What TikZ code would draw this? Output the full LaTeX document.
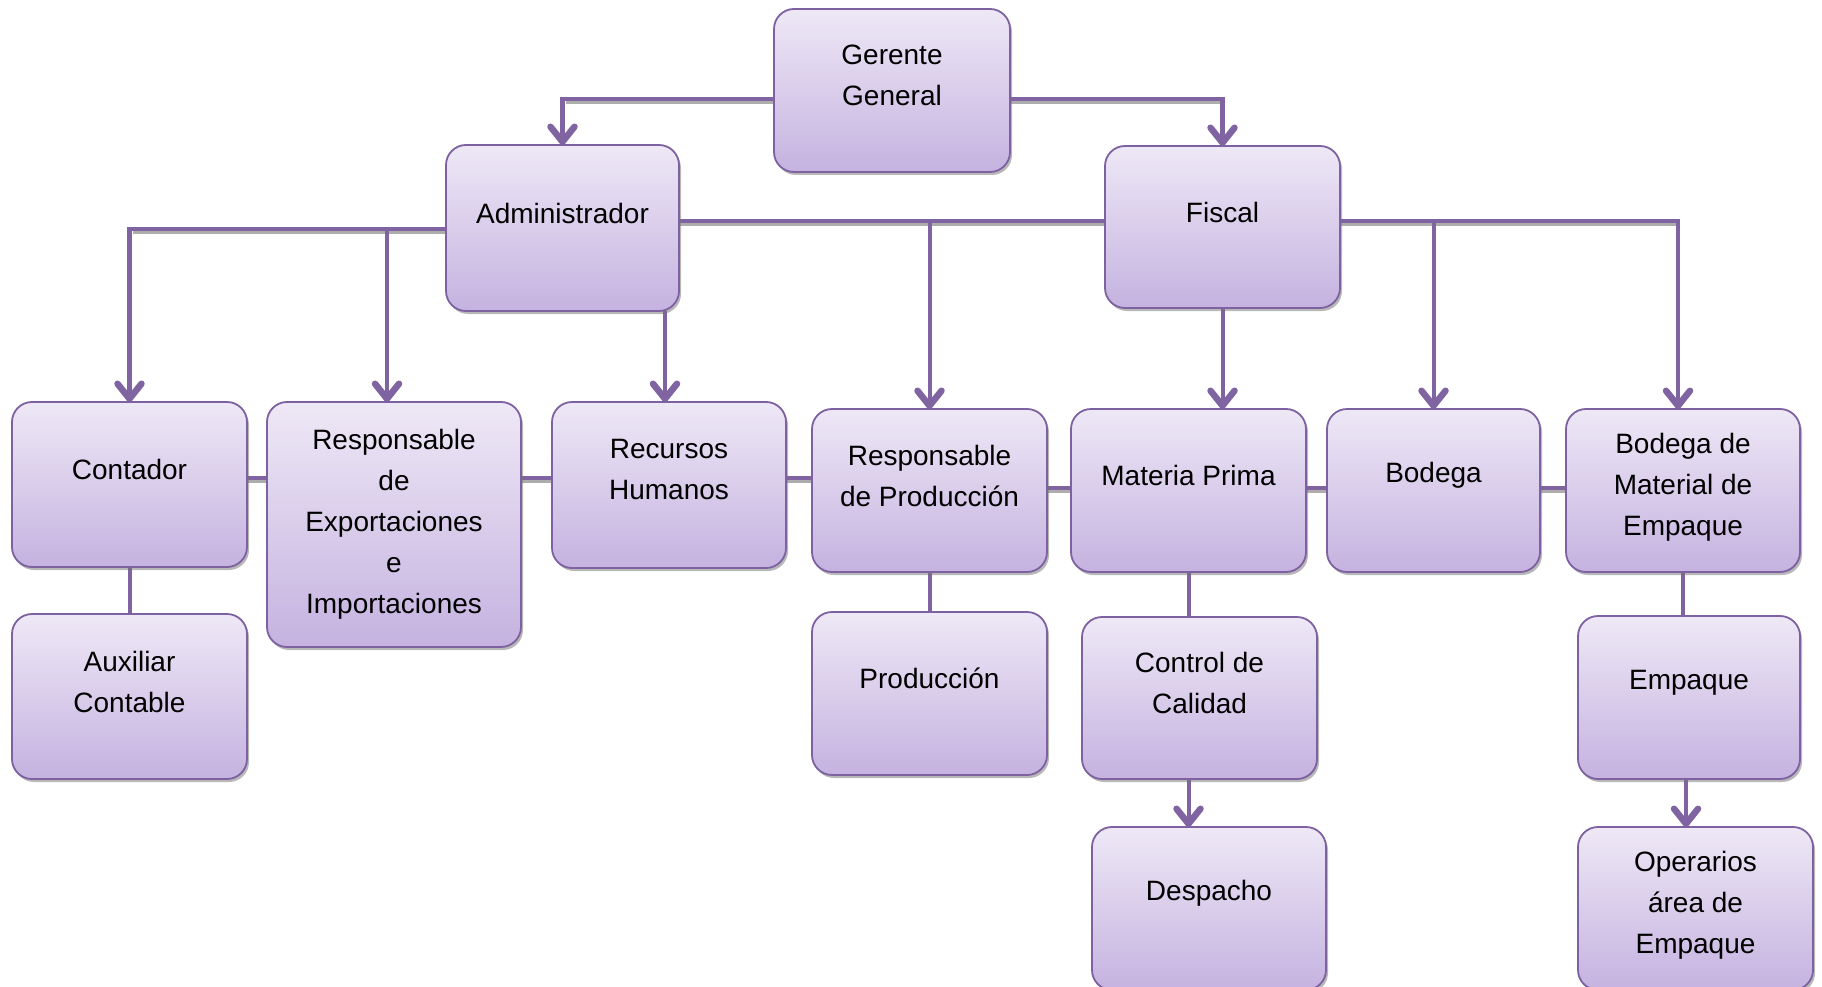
\documentclass[tikz,border=0pt]{standalone}
\usepackage{fontspec}
\setmainfont{Liberation Sans}
\usetikzlibrary{arrows.meta,shadows,backgrounds}
\definecolor{boxtop}{HTML}{EEE8F6}
\definecolor{boxbot}{HTML}{C5B2E0}
\definecolor{boxline}{HTML}{7D61A0}
\definecolor{conncol}{HTML}{8064A2}
\tikzset{
  orgbox/.style={draw=boxline, line width=1.8pt, rounded corners=20pt,
    top color=boxtop, bottom color=boxbot, inner sep=0pt, outer sep=0pt,
    drop shadow={shadow xshift=2pt, shadow yshift=-3pt, fill=black!55, opacity=0.5}},
  boxtext/.style={align=center, inner sep=0pt, font=\fontsize{28}{41}\selectfont, text=black},
  conn/.style={draw=conncol, line width=4.5pt},
  vconn/.style={draw=conncol, line width=4pt},
  arr/.style={-{Straight Barb[length=15pt,width=24pt,line width=6.5pt,round]}},
  lsh/.style={draw=black!32, line width=4.5pt, transform canvas={xshift=1pt,yshift=-3pt}},
}
\begin{document}
\begin{tikzpicture}[x=1pt,y=-1pt]
\useasboundingbox (0,0) rectangle (1822,987);

% boxes
\node[orgbox, minimum width=236pt, minimum height=163pt] (ger) at (892,90.5) {};
\node[orgbox, minimum width=233pt, minimum height=166pt] (adm) at (562.5,228) {};
\node[orgbox, minimum width=235pt, minimum height=162pt] (fis) at (1222.5,227) {};
\node[orgbox, minimum width=235pt, minimum height=165pt] (cont) at (129.5,484.5) {};
\node[orgbox, minimum width=254pt, minimum height=245pt] (rexp) at (394,524.5) {};
\node[orgbox, minimum width=234pt, minimum height=166pt] (rh) at (669,485) {};
\node[orgbox, minimum width=235pt, minimum height=163pt] (rprod) at (929.5,490.5) {};
\node[orgbox, minimum width=235pt, minimum height=163pt] (mp) at (1188.5,490.5) {};
\node[orgbox, minimum width=213pt, minimum height=163pt] (bod) at (1433.5,490.5) {};
\node[orgbox, minimum width=234pt, minimum height=163pt] (bme) at (1683,490.5) {};
\node[orgbox, minimum width=235pt, minimum height=165pt] (aux) at (129.5,696.5) {};
\node[orgbox, minimum width=235pt, minimum height=163pt] (prod) at (929.5,693.5) {};
\node[orgbox, minimum width=235pt, minimum height=162pt] (cc) at (1199.5,698) {};
\node[orgbox, minimum width=222pt, minimum height=163pt] (emp) at (1689,697.5) {};
\node[orgbox, minimum width=234pt, minimum height=163pt] (desp) at (1209,908.5) {};
\node[orgbox, minimum width=235pt, minimum height=163pt] (oper) at (1695.5,908.5) {};

% texts
\node[boxtext] (ger-t) at ([yshift=15pt]ger.center) {Gerente\\General};
\node[boxtext] (adm-t) at ([yshift=15pt]adm.center) {Administrador};
\node[boxtext] (fis-t) at ([yshift=15pt]fis.center) {Fiscal};
\node[boxtext] (cont-t) at ([yshift=15pt]cont.center) {Contador};
\node[boxtext] (rexp-t) at (rexp.center) {Responsable\\de\\Exportaciones\\e\\Importaciones};
\node[boxtext] (rh-t) at ([yshift=15pt]rh.center) {Recursos\\Humanos};
\node[boxtext] (rprod-t) at ([yshift=15pt]rprod.center) {Responsable\\de Producción};
\node[boxtext] (mp-t) at ([yshift=15pt]mp.center) {Materia Prima};
\node[boxtext] (bod-t) at ([yshift=15pt]bod.center) {Bodega};
\node[boxtext] (bme-t) at ([yshift=3pt]bme.center) {Bodega de\\Material de\\Empaque};
\node[boxtext] (aux-t) at ([yshift=15pt]aux.center) {Auxiliar\\Contable};
\node[boxtext] (prod-t) at ([yshift=15pt]prod.center) {Producción};
\node[boxtext] (cc-t) at ([yshift=15pt]cc.center) {Control de\\Calidad};
\node[boxtext] (emp-t) at ([yshift=15pt]emp.center) {Empaque};
\node[boxtext] (desp-t) at ([yshift=15pt]desp.center) {Despacho};
\node[boxtext] (oper-t) at ([yshift=3pt]oper.center) {Operarios\\área de\\Empaque};

\coordinate (gline) at (0,99);
\coordinate (aline) at (0,229);
\coordinate (bline) at (0,221);
\coordinate (rowA) at (0,478);
\coordinate (rowB) at (0,488);

\begin{scope}[on background layer]
\fill[white] (0,0) rectangle (1822,987);
% shadows of horizontal lines
\draw[lsh] (ger.west |- gline) -- ([xshift=2pt]adm.north |- gline);
\draw[lsh] (ger.east |- gline) -- ([xshift=-2pt]fis.north |- gline);
\draw[lsh] (adm.west |- aline) -- ([xshift=2pt]cont.north |- aline);
\draw[lsh] (adm.east |- bline) -- (fis.west |- bline);
\draw[lsh] (fis.east |- bline) -- ([xshift=-7pt]bme.north |- bline);
\draw[lsh] (cont.east |- rowA) -- (rprod.west |- rowA);
\draw[lsh] (rprod.east |- rowB) -- (bme.west |- rowB);
% row links behind boxes
\draw[conn] (cont.east |- rowA) -- (rprod.west |- rowA);
\draw[conn] (rprod.east |- rowB) -- (bme.west |- rowB);
% hierarchy
\draw[conn, arr] (ger.west |- gline) -| (adm.north);
\draw[conn, arr] (ger.east |- gline) -| (fis.north);
\draw[conn, arr] (adm.west |- aline) -| (cont.north);
\draw[vconn, arr] ([xshift=-7pt]rexp.north |- aline) -- ([xshift=-7pt]rexp.north);
\draw[vconn, arr] ([xshift=-4pt]rh.north |- adm.south) -- ([xshift=-4pt]rh.north);
\draw[conn] (adm.east |- bline) -- (fis.west |- bline);
\draw[vconn, arr] (rprod.north |- bline) -- (rprod.north);
\draw[vconn, arr] (fis.south) -- (fis.south |- mp.north);
\draw[conn, arr] (fis.east |- bline) -| ([xshift=-5pt]bme.north);
\draw[vconn, arr] (bod.north |- bline) -- (bod.north);
\draw[vconn] (cont.south) -- (aux.north);
\draw[vconn] (rprod.south) -- (prod.north);
\draw[vconn] (mp.south) -- (mp.south |- cc.north);
\draw[vconn, arr] (mp.south |- cc.south) -- (mp.south |- desp.north);
\draw[vconn] (bme.south) -- (bme.south |- emp.north);
\draw[vconn, arr] ([xshift=-3pt]emp.south) -- ([xshift=-3pt]emp.south |- oper.north);
\end{scope}
\end{tikzpicture}
\end{document}
